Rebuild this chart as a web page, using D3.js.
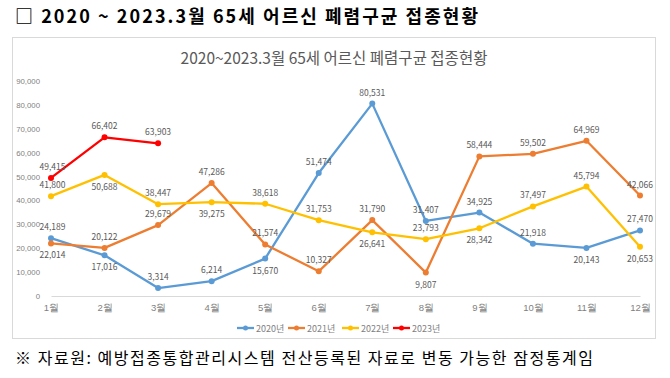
<!DOCTYPE html>
<html><head><meta charset="utf-8">
<script src="https://cdn.jsdelivr.net/npm/d3@7/dist/d3.min.js"></script>
<style>
html,body{margin:0;padding:0;background:#fff;}
svg{display:block;font-family:"Noto Sans CJK KR","Noto Sans",sans-serif;}
</style></head>
<body><svg id="c" width="670" height="378"></svg>
<script>
const months = ["1월","2월","3월","4월","5월","6월","7월","8월","9월","10월","11월","12월"];
const yTicks = [0,10000,20000,30000,40000,50000,60000,70000,80000,90000];
const s2020 = [24189,17016,3314,6214,15670,51474,80531,31407,34925,21918,20143,27470];
const s2021 = [22014,20122,29679,47286,21574,10327,31790,9807,58444,59502,64969,42066];
const s2022 = [41800,50688,38447,39275,38618,31753,26641,23793,28342,37497,45794,20653];
const s2023 = [49415,66402,63903];
// label placement: 1 = above, -1 = below
const pos2020 = [1,-1,1,1,-1,1,1,1,1,1,-1,1];
const pos2021 = [-1,1,1,1,1,1,1,-1,1,1,1,1];
const pos2022 = [1,-1,1,-1,1,1,-1,1,-1,1,1,-1];
const pos2023 = [1,1,1];
const seriesNames = ["2020년","2021년","2022년","2023년"];
const colors = ["#5B9BD5","#ED7D31","#FFC000","#FF0000"];

const series = [
  {name:seriesNames[0], values:s2020, pos:pos2020, color:colors[0]},
  {name:seriesNames[1], values:s2021, pos:pos2021, color:colors[1]},
  {name:seriesNames[2], values:s2022, pos:pos2022, color:colors[2]},
  {name:seriesNames[3], values:s2023, pos:pos2023, color:colors[3]}
];

const svg = d3.select("#c");
// page heading
svg.append("text").attr("x",15).attr("y",23).attr("font-size",18).attr("font-weight","bold")
  .attr("fill","#000").attr("textLength",463).attr("lengthAdjust","spacing")
  .text("□ 2020 ~ 2023.3월 65세 어르신 폐렴구균 접종현황");
// chart frame
svg.append("rect").attr("x",12.5).attr("y",37.5).attr("width",643).attr("height",301)
  .attr("fill","#fff").attr("stroke","#d9d9d9");
// chart title
svg.append("text").attr("x",334).attr("y",64).attr("text-anchor","middle").attr("font-size",15.5)
  .attr("fill","#595959").text("2020~2023.3월 65세 어르신 폐렴구균 접종현황");

const x = d3.scalePoint().domain(months).range([51,640]);
const y = d3.scaleLinear().domain([0,90000]).range([296,81]);

// y axis labels
const ya = svg.append("g").attr("transform","translate(40,0)")
  .call(d3.axisLeft(y).tickValues(yTicks).tickFormat(d3.format(",")).tickSize(0).tickPadding(0));
ya.select(".domain").remove();
ya.selectAll("text").attr("font-size",7.8).attr("fill","#7f7f7f").attr("font-family","inherit");

// x axis
const xa = svg.append("g").attr("transform","translate(0,296)")
  .call(d3.axisBottom(x).tickSize(0).tickPadding(8));
xa.select(".domain").attr("stroke","#d9d9d9").attr("stroke-width",1);
xa.selectAll("text").attr("font-size",9.5).attr("fill","#7f7f7f").attr("font-family","inherit");

const line = d3.line().x((d,i)=>x(months[i])).y(d=>y(d));
series.forEach(s=>{
  const g = svg.append("g");
  g.append("path").datum(s.values).attr("d",line).attr("fill","none")
    .attr("stroke",s.color).attr("stroke-width",2.3).attr("stroke-linejoin","round");
  g.selectAll("circle").data(s.values).join("circle")
    .attr("cx",(d,i)=>x(months[i])).attr("cy",d=>y(d)).attr("r",3).attr("fill",s.color);
});
// labels drawn on top
series.forEach(s=>{
  svg.append("g").selectAll("text").data(s.values).join("text")
    .attr("x",(d,i)=>x(months[i])+(i===0?1.5:0)).attr("y",(d,i)=>y(d)+(s.pos[i]>0?-8:15))
    .attr("text-anchor","middle").attr("font-size",8.5).attr("fill","#595959")
    .text(d=>d3.format(",")(d));
});

// legend
const lx = [237,288,342,393];
seriesNames.forEach((n,i)=>{
  const g = svg.append("g").attr("transform",`translate(${lx[i]},328)`);
  g.append("line").attr("x1",0).attr("x2",17).attr("stroke",colors[i]).attr("stroke-width",2.3);
  g.append("circle").attr("cx",8.5).attr("r",2.5).attr("fill",colors[i]);
  g.append("text").attr("x",19).attr("y",3.5).attr("font-size",9).attr("fill","#7f7f7f").text(n);
});

// footer
svg.append("text").attr("x",15).attr("y",364).attr("font-size",16).attr("fill","#000")
  .attr("textLength",578).attr("lengthAdjust","spacing")
  .text("※ 자료원: 예방접종통합관리시스템 전산등록된 자료로 변동 가능한 잠정통계임");
</script></body></html>
